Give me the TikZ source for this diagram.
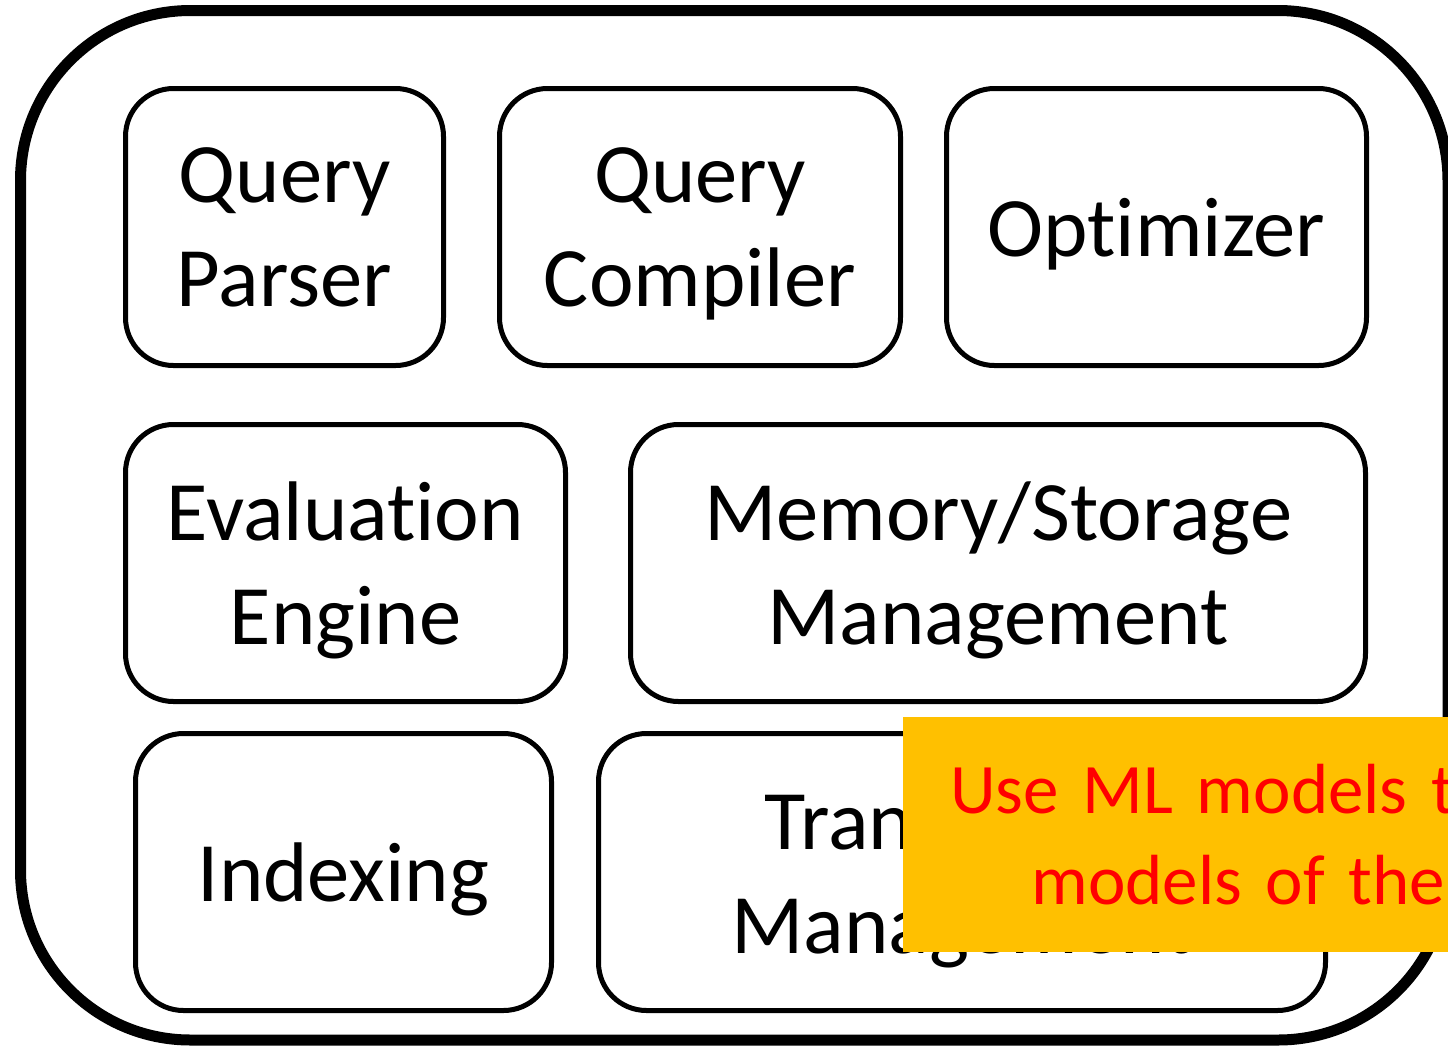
\documentclass[tikz,border=0pt]{standalone}
\usepackage{fontspec}
\setmainfont{Carlito}[Ligatures=CommonOff]
\definecolor{notefill}{HTML}{FFC000}
\tikzset{block/.style = {rectangle, rounded corners=24pt, line width=2.5pt, minimum height=138.5pt, text centered, align=center, text depth=0pt, draw=black, font=\fontsize{42.3}{52}\selectfont}}
\tikzset{note/.style = {rectangle, fill=notefill, text=red, minimum height=117.5pt, inner xsep=23.5pt, text width=300pt, align=left, font=\fontsize{35.5}{45.5}\selectfont}}
\tikzset{frame/.style = {line width=5.5pt, rounded corners=85pt}}

\begin{document}
\begin{tikzpicture}[x=0.5pt, y=-0.5pt]
	\useasboundingbox (0,0) rectangle (1448,1046);
	\clip (0,0) rectangle (1448,1046);
	\fill[white] (0,0) rectangle (1448,1046);
	\draw [frame] (20.5,10.5) rectangle (1448,1040);

	\node (parser) 		[block, minimum width=159pt] 	at (284.5,227) 	{Query\\Parser};
	\node (compiler) 	[block, minimum width=200.5pt] 	at (700,227) 	{Query\\Compiler};
	\node (optimizer) 	[block, minimum width=210pt] 	at (1156.5,227) {Optimizer};
	\node (eval) 		[block, minimum width=220pt] 	at (345.5,563) 	{Evaluation\\Engine};
	\node (storage) 	[block, minimum width=367.5pt] 	at (998,563) 	{Memory/Storage\\Management};
	\node (index) 		[block, minimum width=208pt] 	at (343.5,872) 	{Indexing};
	\node (trans) 		[block, minimum width=363.5pt] 	at (962,872) 	{Transaction\\Management};

	\node (ml) 			[note, anchor=north west] 		at (903,717) 	{Use ML models to\\\hspace*{40.5pt}models of the};
\end{tikzpicture}
\end{document}
